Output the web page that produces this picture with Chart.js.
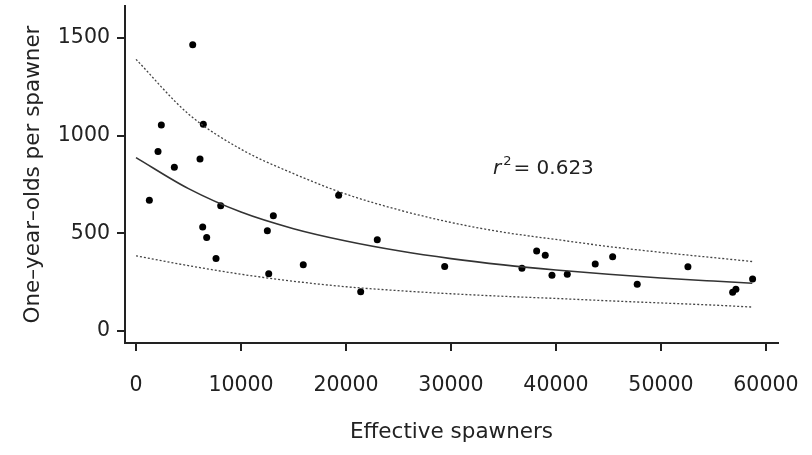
<!DOCTYPE html>
<html>
<head>
<meta charset="utf-8">
<script src="https://cdn.jsdelivr.net/npm/chart.js@4/dist/chart.umd.min.js"></script>
<style>
  html, body { margin: 0; padding: 0; background: #fff; }
  #wrap { width: 812px; height: 455px; }
</style>
</head>
<body>
<div id="wrap"><canvas id="c" width="812" height="455"></canvas></div>
<script>
// Observed data: effective spawners vs one-year-olds per spawner
const spawners = [1270, 2095, 2410, 3650, 5400, 6095, 6350, 6410, 6730, 7620, 8065,
  12510, 12640, 13080, 15930, 19300, 21400, 22980, 29400, 36760, 38160, 38980,
  39620, 41080, 43740, 45400, 47740, 52570, 56830, 57140, 58730];
const perSpawner = [669, 918, 1054, 838, 1465, 880, 532, 1058, 478, 370, 641,
  512, 293, 589, 338, 694, 200, 466, 329, 321, 409, 387,
  285, 290, 343, 380, 239, 328, 198, 213, 265];

// Fitted curve and confidence bands
const curveX = [0, 5000, 10000, 15000, 20000, 25000, 30000, 35000, 40000, 45000, 50000, 55000, 58700];
const fitY   = [887, 728, 608, 523, 460, 410, 370, 338, 312, 290, 271, 255, 244];
const upperY = [1390, 1110, 930, 805, 700, 620, 555, 505, 468, 432, 402, 375, 355];
const lowerY = [384, 334, 290, 254, 226, 206, 190, 177, 166, 154, 143, 132, 122];

// Axis ticks
const xTicks = [0, 10000, 20000, 30000, 40000, 50000, 60000];
const yTicks = [0, 500, 1000, 1500];

const xTitle = 'Effective spawners';
const yTitle = 'One\u2013year\u2013olds per spawner';
const r2Text = '0.623';

const pts = spawners.map((x, i) => ({ x: x, y: perSpawner[i] }));
const line = (ys) => curveX.map((x, i) => ({ x: x, y: ys[i] }));

const ink = '#222';
const FONT = 'DejaVu Sans';

const r2Plugin = {
  id: 'r2label',
  afterDraw(chart) {
    const ctx = chart.ctx;
    const xs = chart.scales.x, ys = chart.scales.y;
    const px = xs.getPixelForValue(34000);
    const py = ys.getPixelForValue(805);
    ctx.save();
    ctx.fillStyle = ink;
    ctx.textBaseline = 'alphabetic';
    ctx.textAlign = 'left';
    ctx.font = 'italic 20px "' + FONT + '"';
    ctx.fillText('r', px, py);
    let w = ctx.measureText('r').width;
    ctx.font = '13px "' + FONT + '"';
    ctx.fillText('2', px + w + 2, py - 9);
    w += ctx.measureText('2').width + 4;
    ctx.font = '20px "' + FONT + '"';
    ctx.fillText('= ' + r2Text, px + w, py);
    ctx.restore();
  }
};

const noPad = (s) => { s.paddingTop = 0; s.paddingBottom = 0; s.paddingLeft = 0; s.paddingRight = 0; };

new Chart(document.getElementById('c'), {
  type: 'scatter',
  data: {
    datasets: [
      { label: 'upper', data: line(upperY), showLine: true, pointRadius: 0,
        borderColor: '#444', borderWidth: 1.3, borderDash: [2, 2],
        cubicInterpolationMode: 'monotone', fill: false },
      { label: 'lower', data: line(lowerY), showLine: true, pointRadius: 0,
        borderColor: '#444', borderWidth: 1.3, borderDash: [2, 2],
        cubicInterpolationMode: 'monotone', fill: false },
      { label: 'fit', data: line(fitY), showLine: true, pointRadius: 0,
        borderColor: '#333', borderWidth: 1.6,
        cubicInterpolationMode: 'monotone', fill: false },
      { label: 'obs', data: pts, showLine: false, pointRadius: 3.5,
        pointBackgroundColor: '#000', pointBorderColor: '#000', pointBorderWidth: 0 }
    ]
  },
  options: {
    responsive: false,
    devicePixelRatio: 1,
    animation: false,
    events: [],
    layout: { padding: { top: 6, right: 34, left: 0, bottom: 0 } },
    plugins: { legend: { display: false }, tooltip: { enabled: false } },
    scales: {
      x: {
        type: 'linear', min: -1050, max: 61150,
        afterBuildTicks: (s) => { s.ticks = xTicks.map(v => ({ value: v })); },
        afterFit: (s) => { s.height = 112; noPad(s); },
        ticks: { color: ink, font: { family: FONT, size: 20.5 }, padding: 22,
                 maxRotation: 0, autoSkip: false, callback: (v) => String(v) },
        grid: { drawOnChartArea: false, drawTicks: true, tickLength: 8, color: ink, lineWidth: 2 },
        border: { display: true, color: ink, width: 2 },
        title: { display: true, text: xTitle, color: ink,
                 font: { family: FONT, size: 21.5 }, padding: { top: 0, bottom: 10 } }
      },
      y: {
        type: 'linear', min: -62, max: 1663,
        afterBuildTicks: (s) => { s.ticks = yTicks.map(v => ({ value: v })); },
        afterFit: (s) => { s.width = 125; noPad(s); },
        ticks: { color: ink, font: { family: FONT, size: 20.5 }, padding: 7,
                 autoSkip: false, callback: (v) => String(v) },
        grid: { drawOnChartArea: false, drawTicks: true, tickLength: 8, color: ink, lineWidth: 2 },
        border: { display: true, color: ink, width: 2 },
        title: { display: true, text: yTitle, color: ink,
                 font: { family: FONT, size: 21.5 }, padding: { top: 21, bottom: 0 } }
      }
    }
  },
  plugins: [r2Plugin]
});
</script>
</body>
</html>
